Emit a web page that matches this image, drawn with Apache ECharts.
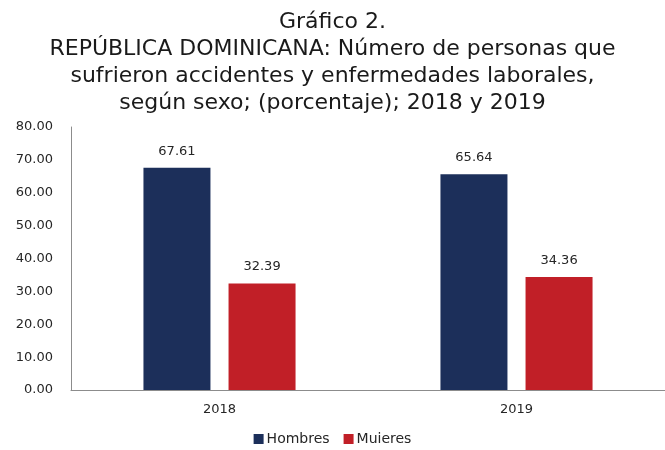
<!DOCTYPE html>
<html>
<head>
<meta charset="utf-8">
<script src="https://cdn.jsdelivr.net/npm/echarts@6/dist/echarts.min.js"></script>
<style>
html, body { margin: 0; padding: 0; background: #fff; }
#grafico2 { width: 665px; height: 450px; }
</style>
</head>
<body>
<div id="grafico2"></div>
<script>
var years = ['2018', '2019'];
var hombres = [67.61, 65.64];
var mujeres = [32.39, 34.36];
var seriesNames = ['Hombres', 'Muieres'];

var myChart = echarts.init(document.getElementById('grafico2'));
var fontName = 'DejaVu Sans';

var labelOption = {
	show: true,
	position: 'top',
	distance: 10,
	color: '#262626',
	fontSize: 13,
	fontFamily: fontName,
	formatter: function (p) { return p.value.toFixed(2); }
};

var option = {
	animation: false,
	title: {
		text: 'Gráfico 2.\nREPÚBLICA DOMINICANA: Número de personas que\nsufrieron accidentes y enfermedades laborales,\nsegún sexo; (porcentaje); 2018 y 2019',
		left: 'center',
		top: 4,
		textStyle: {
			color: '#1a1a1a',
			fontWeight: 'normal',
			fontSize: 22,
			lineHeight: 27,
			fontFamily: fontName
		}
	},
	legend: {
		data: seriesNames,
		bottom: -1,
		left: 'center',
		itemWidth: 10,
		itemHeight: 10,
		itemGap: 14,
		icon: 'rect',
		textStyle: { color: '#262626', fontSize: 14, fontFamily: fontName, padding: [0, 0, 0, -2] }
	},
	grid: { left: 71, right: 0, top: 127, bottom: 60 },
	xAxis: {
		type: 'category',
		data: years,
		axisLine: { lineStyle: { color: '#8c8c8c', width: 1 } },
		axisTick: { show: false },
		axisLabel: { color: '#262626', fontSize: 13, fontFamily: fontName, margin: 13 }
	},
	yAxis: {
		type: 'value',
		min: 0,
		max: 80,
		interval: 10,
		axisLine: { show: true, lineStyle: { color: '#8c8c8c', width: 1 } },
		axisTick: { show: false },
		splitLine: { show: false },
		axisLabel: {
			color: '#262626',
			fontSize: 13,
			fontFamily: fontName,
			margin: 18,
			formatter: function (v) { return v.toFixed(2); }
		}
	},
	series: [
		{
			name: seriesNames[0],
			type: 'bar',
			barWidth: 67,
			barGap: '27%',
			itemStyle: { color: '#1c2f5a' },
			label: labelOption,
			data: hombres
		},
		{
			name: seriesNames[1],
			type: 'bar',
			barWidth: 67,
			itemStyle: { color: '#c11f27' },
			label: labelOption,
			data: mujeres
		}
	]
};
myChart.setOption(option);
</script>
</body>
</html>
